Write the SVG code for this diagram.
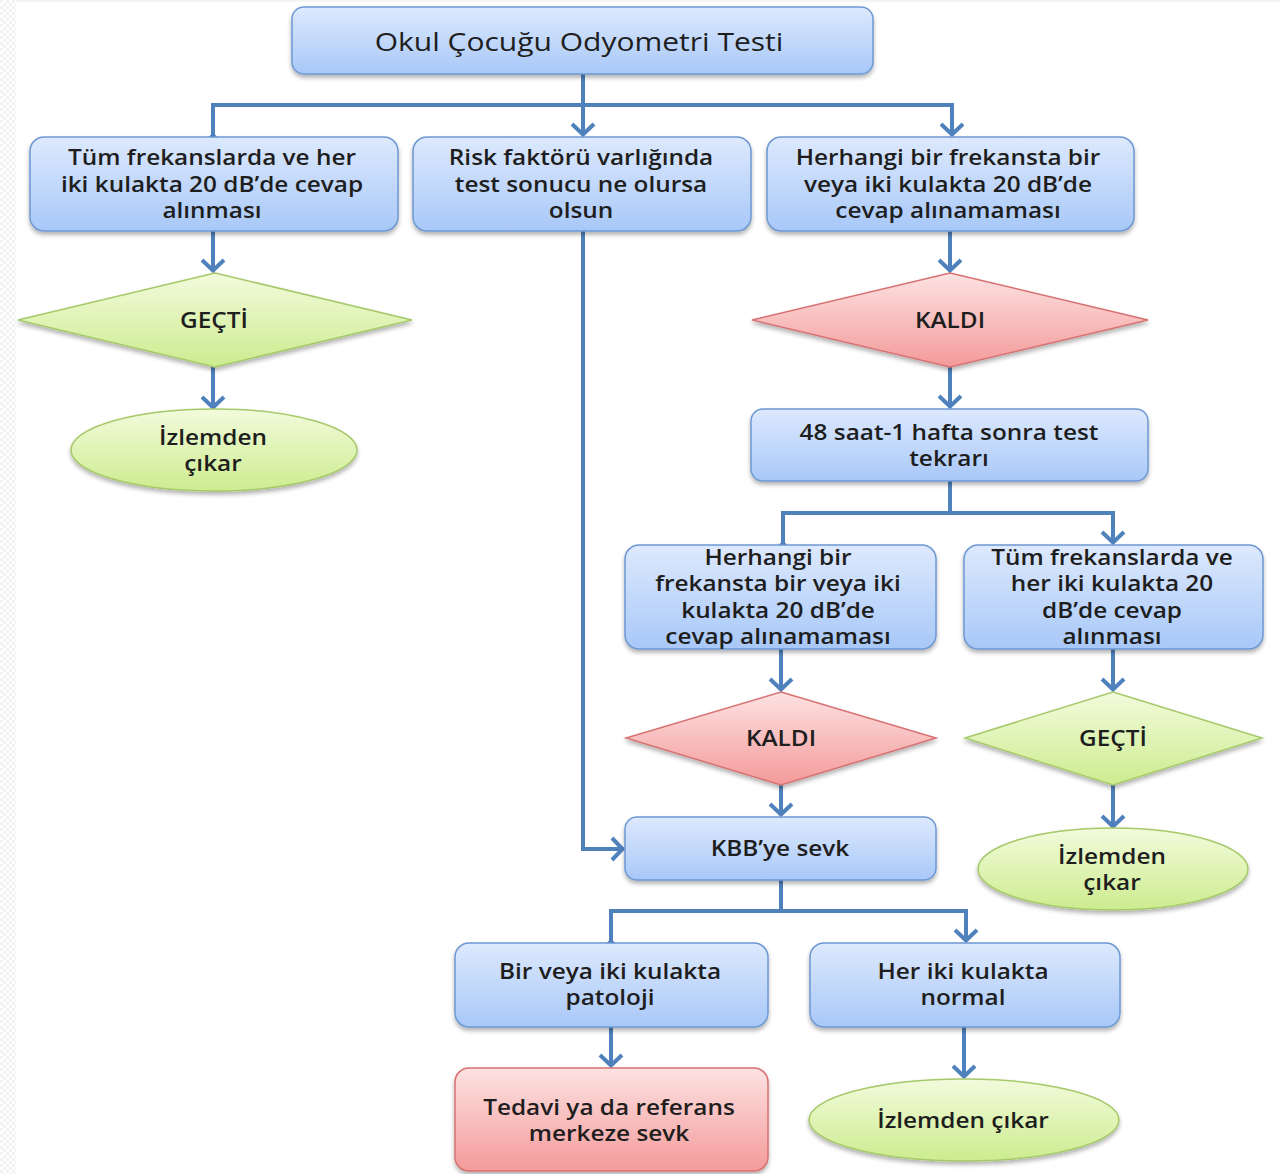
<svg xmlns="http://www.w3.org/2000/svg" width="1281" height="1174" viewBox="0 0 1281 1174">
<defs>
<linearGradient id="gBlue" x1="0" y1="0" x2="0" y2="1"><stop offset="0" stop-color="#dde9fd"/><stop offset="1" stop-color="#a8c8f8"/></linearGradient>
<linearGradient id="gGreen" x1="0" y1="0" x2="0" y2="1"><stop offset="0" stop-color="#f2fbdc"/><stop offset="1" stop-color="#cdec8f"/></linearGradient>
<linearGradient id="gRed" x1="0" y1="0" x2="0" y2="1"><stop offset="0" stop-color="#fde2e2"/><stop offset="1" stop-color="#f49a9a"/></linearGradient>
<filter id="sh" x="-10%" y="-10%" width="120%" height="130%"><feDropShadow dx="0" dy="3" stdDeviation="2" flood-color="#000" flood-opacity="0.3"/></filter>
<marker id="arr" markerUnits="userSpaceOnUse" viewBox="-14 -14 16 28" markerWidth="16" markerHeight="28" refX="0" refY="0" orient="auto" overflow="visible">
<path d="M-11,-11 L-0.5,0 L-11,11" fill="none" stroke="#4f81bd" stroke-width="4" stroke-linejoin="miter"/>
</marker>
<pattern id="chk" width="6" height="6" patternUnits="userSpaceOnUse"><rect width="6" height="6" fill="#ffffff"/><rect width="3" height="3" fill="#f2f2f2"/><rect x="3" y="3" width="3" height="3" fill="#f2f2f2"/></pattern>
</defs>
<style>
.b{fill:url(#gBlue);stroke:#6e98d2;stroke-width:1.5;filter:url(#sh)}
.g{fill:url(#gGreen);stroke:#a6c96a;stroke-width:1.5;filter:url(#sh)}
.r{fill:url(#gRed);stroke:#d77272;stroke-width:1.5;filter:url(#sh)}
.c{fill:none;stroke:#4f81bd;stroke-width:4}
text{font-family:"Open Sans","Liberation Sans",sans-serif;font-size:21px;font-weight:600;fill:#1e1e1e;text-anchor:middle;dominant-baseline:central}
.t{font-size:25px;font-weight:400}
</style>
<rect x="0" y="0" width="1281" height="1174" fill="#ffffff"/>
<rect x="0" y="0" width="16" height="1174" fill="url(#chk)"/>
<rect x="16" y="0" width="1265" height="2" fill="#f4f4f4"/>

<g id="connectors">
<path class="c" d="M583,74 V105"/>
<path class="c" d="M213,135 V105 H952 V135" marker-start="url(#arr)" marker-end="url(#arr)"/>
<path class="c" d="M583,105 V135" marker-end="url(#arr)"/>
<path class="c" d="M213,231 V271" marker-end="url(#arr)"/>
<path class="c" d="M213,367 V408" marker-end="url(#arr)"/>
<path class="c" d="M950,231 V271" marker-end="url(#arr)"/>
<path class="c" d="M950,367 V407" marker-end="url(#arr)"/>
<path class="c" d="M583,231 V849 H623" marker-end="url(#arr)"/>
<path class="c" d="M950,481 V513"/>
<path class="c" d="M783,543 V513 H1113 V543" marker-start="url(#arr)" marker-end="url(#arr)"/>
<path class="c" d="M781,649 V690" marker-end="url(#arr)"/>
<path class="c" d="M781,785 V815" marker-end="url(#arr)"/>
<path class="c" d="M1113,649 V690" marker-end="url(#arr)"/>
<path class="c" d="M1113,785 V827" marker-end="url(#arr)"/>
<path class="c" d="M781,880 V911"/>
<path class="c" d="M611,941 V911 H966 V941" marker-start="url(#arr)" marker-end="url(#arr)"/>
<path class="c" d="M611,1027 V1066" marker-end="url(#arr)"/>
<path class="c" d="M964,1027 V1077" marker-end="url(#arr)"/>
</g>

<g id="n-title"><rect class="b" x="292" y="7" width="581" height="67" rx="12"/>
<g transform="matrix(1.2 0 0 1 579 0)"><text class="t" x="0" y="41">Okul Çocuğu Odyometri Testi</text></g></g>

<g id="n-pass-cond"><rect class="b" x="30" y="137" width="368" height="94" rx="14"/>
<g transform="matrix(1.16 0 0 1 212 0)"><text x="0" y="157">Tüm frekanslarda ve her</text><text x="0" y="184">iki kulakta 20 dB’de cevap</text><text x="0" y="210">alınması</text></g></g>

<g id="n-risk"><rect class="b" x="413" y="137" width="338" height="94" rx="14"/>
<g transform="matrix(1.16 0 0 1 581 0)"><text x="0" y="157">Risk faktörü varlığında</text><text x="0" y="184">test sonucu ne olursa</text><text x="0" y="210">olsun</text></g></g>

<g id="n-fail-cond"><rect class="b" x="767" y="137" width="367" height="94" rx="14"/>
<g transform="matrix(1.16 0 0 1 948 0)"><text x="0" y="157">Herhangi bir frekansta bir</text><text x="0" y="184">veya iki kulakta 20 dB’de</text><text x="0" y="210">cevap alınamaması</text></g></g>

<g id="n-pass1"><polygon class="g" points="215,273 412,320 215,367 18,320"/>
<g transform="matrix(1.16 0 0 1 214 0)"><text x="0" y="320">GEÇTİ</text></g></g>

<g id="n-exit1"><ellipse class="g" cx="214" cy="450" rx="143" ry="41"/>
<g transform="matrix(1.16 0 0 1 213 0)"><text x="0" y="437">İzlemden</text><text x="0" y="463">çıkar</text></g></g>

<g id="n-fail1"><polygon class="r" points="950,273 1148,320 950,367 752,320"/>
<g transform="matrix(1.16 0 0 1 950 0)"><text x="0" y="320">KALDI</text></g></g>

<g id="n-retest"><rect class="b" x="751" y="409" width="397" height="72" rx="12"/>
<g transform="matrix(1.16 0 0 1 949 0)"><text x="0" y="432">48 saat-1 hafta sonra test</text><text x="0" y="458">tekrarı</text></g></g>

<g id="n-fail-cond2"><rect class="b" x="625" y="545" width="311" height="104" rx="14"/>
<g transform="matrix(1.16 0 0 1 778 0)"><text x="0" y="557">Herhangi bir</text><text x="0" y="583">frekansta bir veya iki</text><text x="0" y="610">kulakta 20 dB’de</text><text x="0" y="636">cevap alınamaması</text></g></g>

<g id="n-pass-cond2"><rect class="b" x="964" y="545" width="299" height="104" rx="14"/>
<g transform="matrix(1.16 0 0 1 1112 0)"><text x="0" y="557">Tüm frekanslarda ve</text><text x="0" y="583">her iki kulakta 20</text><text x="0" y="610">dB’de cevap</text><text x="0" y="636">alınması</text></g></g>

<g id="n-fail2"><polygon class="r" points="781,692 936,738 781,785 626,738"/>
<g transform="matrix(1.16 0 0 1 781 0)"><text x="0" y="738">KALDI</text></g></g>

<g id="n-pass2"><polygon class="g" points="1113,692 1262,738 1113,785 965,738"/>
<g transform="matrix(1.16 0 0 1 1113 0)"><text x="0" y="738">GEÇTİ</text></g></g>

<g id="n-kbb"><rect class="b" x="625" y="817" width="311" height="63" rx="12"/>
<g transform="matrix(1.16 0 0 1 780 0)"><text x="0" y="848">KBB’ye sevk</text></g></g>

<g id="n-exit2"><ellipse class="g" cx="1113" cy="869" rx="135" ry="41"/>
<g transform="matrix(1.16 0 0 1 1112 0)"><text x="0" y="856">İzlemden</text><text x="0" y="882">çıkar</text></g></g>

<g id="n-pathology"><rect class="b" x="455" y="943" width="313" height="84" rx="14"/>
<g transform="matrix(1.16 0 0 1 610 0)"><text x="0" y="971">Bir veya iki kulakta</text><text x="0" y="997">patoloji</text></g></g>

<g id="n-normal"><rect class="b" x="810" y="943" width="310" height="84" rx="14"/>
<g transform="matrix(1.16 0 0 1 963 0)"><text x="0" y="971">Her iki kulakta</text><text x="0" y="997">normal</text></g></g>

<g id="n-treat"><rect class="r" x="455" y="1068" width="313" height="103" rx="14"/>
<g transform="matrix(1.16 0 0 1 609 0)"><text x="0" y="1107">Tedavi ya da referans</text><text x="0" y="1133">merkeze sevk</text></g></g>

<g id="n-exit3"><ellipse class="g" cx="964" cy="1120" rx="155" ry="41"/>
<g transform="matrix(1.16 0 0 1 963 0)"><text x="0" y="1120">İzlemden çıkar</text></g></g>
</svg>
